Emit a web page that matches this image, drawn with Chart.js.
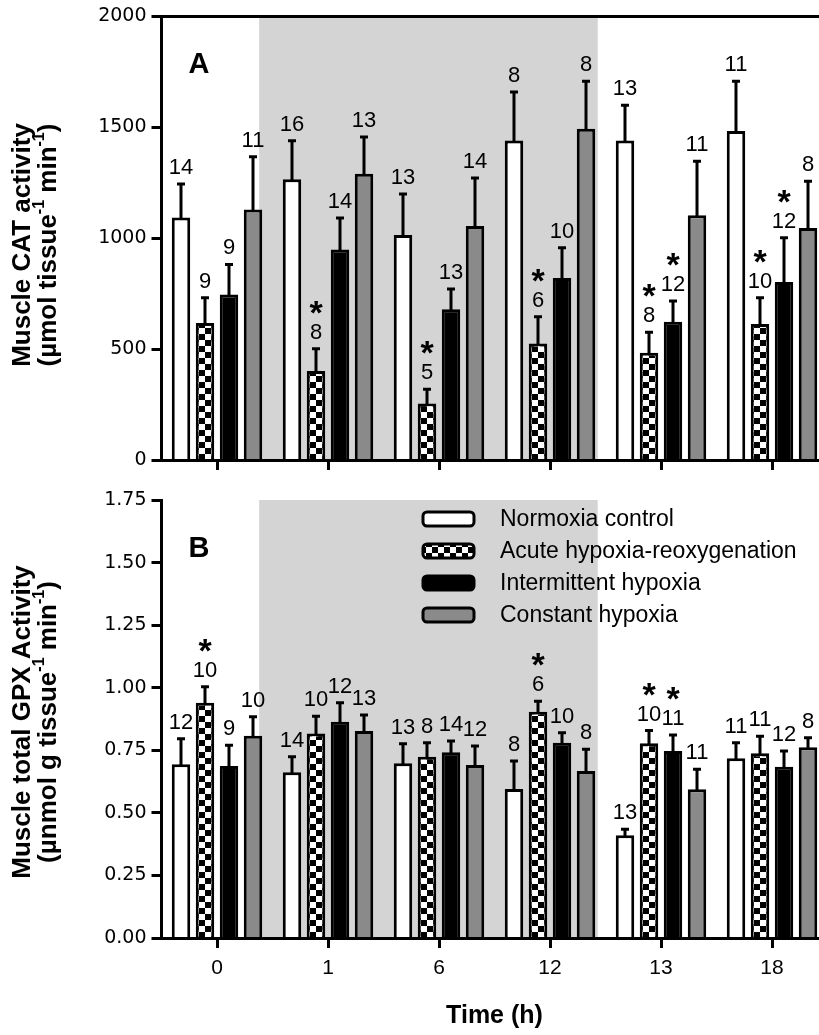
<!doctype html>
<html lang="en">
<head>
  <meta charset="utf-8" />
  <title>Muscle CAT and GPX activity</title>
  <style>
    body { margin: 0; background: #fff; overflow: hidden; }
    #wrap { position: relative; width: 819px; height: 1035px; overflow: hidden; }
    .panel { position: absolute; left: 0; }
  </style>
</head>
<body>
<div id="wrap">
  <div class="panel" style="top:0"><canvas id="cat" width="840" height="480"></canvas></div>
  <div class="panel" style="top:480px"><canvas id="gpx" width="840" height="555"></canvas></div>
</div>

<script src="https://cdn.jsdelivr.net/npm/chart.js"></script>
<script>
// time points (h) and treatment groups
const timeLabels = ['0', '1', '6', '12', '13', '18'];
const groupNames = ['Normoxia control', 'Acute hypoxia-reoxygenation', 'Intermittent hypoxia', 'Constant hypoxia'];

// shaded hypoxia period, in category units of the x axis
const shadeFrom = 0.38;
const shadeTo = 3.43;

// A: muscle CAT activity (rows follow groupNames)
const catMean = [
  [1093, 1266, 1014, 1441, 1441, 1483],
  [618, 401, 255, 525, 483, 613],
  [746, 949, 680, 821, 623, 803],
  [1129, 1291, 1055, 1494, 1104, 1046]
];
const catSem = [
  [156, 178, 190, 223, 163, 229],
  [118, 105, 68, 125, 98, 123],
  [140, 147, 95, 140, 98, 203],
  [243, 170, 221, 218, 247, 215]
];
const catN = [
  [14, 16, 13, 8, 13, 11],
  [9, 8, 5, 6, 8, 10],
  [9, 14, 13, 10, 12, 12],
  [11, 13, 14, 8, 11, 8]
];
const catStar = [
  [0, 0, 0, 0, 0, 0],
  [0, 1, 1, 1, 1, 1],
  [0, 0, 0, 0, 1, 1],
  [0, 0, 0, 0, 0, 0]
];
const catTicks = [0, 500, 1000, 1500, 2000];

// B: muscle total GPX activity
const gpxMean = [
  [0.694, 0.662, 0.698, 0.595, 0.411, 0.718],
  [0.940, 0.817, 0.724, 0.904, 0.778, 0.738],
  [0.687, 0.864, 0.742, 0.780, 0.747, 0.684],
  [0.808, 0.827, 0.691, 0.667, 0.594, 0.762]
];
const gpxSem = [
  [0.106, 0.066, 0.082, 0.116, 0.027, 0.066],
  [0.068, 0.073, 0.060, 0.046, 0.055, 0.072],
  [0.087, 0.080, 0.049, 0.044, 0.068, 0.067],
  [0.080, 0.068, 0.080, 0.091, 0.084, 0.042]
];
const gpxN = [
  [12, 14, 13, 8, 13, 11],
  [10, 10, 8, 6, 10, 11],
  [9, 12, 14, 10, 11, 12],
  [10, 13, 12, 8, 11, 8]
];
const gpxStar = [
  [0, 0, 0, 0, 0, 0],
  [1, 0, 0, 1, 1, 0],
  [0, 0, 0, 0, 1, 0],
  [0, 0, 0, 0, 0, 0]
];
const gpxTicks = [0, 0.25, 0.5, 0.75, 1.0, 1.25, 1.5, 1.75];

const FONT = "'Liberation Sans', Arial, sans-serif";
const TICKFONT = "'DejaVu Sans', Verdana, sans-serif";
Chart.defaults.font.family = FONT;
Chart.defaults.color = '#000';

// checkerboard fill for the acute group (6 px squares)
function checker(ctx) {
  const c = document.createElement('canvas');
  c.width = c.height = 12;
  const g = c.getContext('2d');
  g.fillStyle = '#fff';
  g.fillRect(0, 0, 12, 12);
  g.fillStyle = '#000';
  g.fillRect(6, 0, 6, 6);
  g.fillRect(0, 6, 6, 6);
  return ctx.createPattern(c, 'repeat');
}

// rotated axis title with superscripts
function drawRich(ctx, pieces, cx, cy, size) {
  const base = 'bold ' + size + 'px ' + FONT;
  const sup = 'bold ' + Math.round(size * 0.62) + 'px ' + FONT;
  let w = 0;
  pieces.forEach(p => { ctx.font = p.sup ? sup : base; w += ctx.measureText(p.t).width; });
  ctx.save();
  ctx.translate(cx, cy);
  ctx.rotate(-Math.PI / 2);
  ctx.textAlign = 'left';
  ctx.textBaseline = 'middle';
  ctx.fillStyle = '#000';
  let x = -w / 2;
  pieces.forEach(p => {
    ctx.font = p.sup ? sup : base;
    ctx.fillText(p.t, x, p.sup ? -size * 0.36 : 0);
    x += ctx.measureText(p.t).width;
  });
  ctx.restore();
}

const extras = {
  id: 'extras',
  beforeDraw(chart) {
    const { ctx, chartArea: a, scales: { x } } = chart;
    const x0 = x.getPixelForValue(shadeFrom);
    const x1 = x.getPixelForValue(shadeTo);
    ctx.save();
    ctx.fillStyle = '#d4d4d4';
    ctx.fillRect(x0, a.top, x1 - x0, a.bottom - a.top);
    ctx.restore();
  },
  afterDatasetsDraw(chart) {
    const o = chart.options.plugins.extras;
    const { ctx, scales: { y } } = chart;
    ctx.save();
    // line the checker squares up with each acute bar
    const pat = chart.data.datasets[1].backgroundColor;
    chart.getDatasetMeta(1).data.forEach(bar => {
      const left = bar.x - bar.width / 2 + 3;
      const top = bar.y + 3;
      pat.setTransform(new DOMMatrix([1, 0, 0, 1, Math.round(left), Math.round(bar.base)]));
      ctx.fillStyle = pat;
      ctx.fillRect(left, top, bar.width - 6, bar.base - top);
    });
    ctx.strokeStyle = '#000';
    ctx.fillStyle = '#000';
    ctx.lineWidth = 3;
    ctx.textAlign = 'center';
    ctx.textBaseline = 'alphabetic';
    chart.data.datasets.forEach((ds, i) => {
      chart.getDatasetMeta(i).data.forEach((bar, j) => {
        const top = y.getPixelForValue(ds.data[j] + o.sem[i][j]);
        ctx.beginPath();
        ctx.moveTo(bar.x, bar.y + 1);
        ctx.lineTo(bar.x, top);
        ctx.moveTo(bar.x - 4, top + 1);
        ctx.lineTo(bar.x + 4, top + 1);
        ctx.stroke();
        ctx.font = '22px ' + FONT;
        ctx.fillText(String(o.n[i][j]), bar.x, top - 9);
        if (o.star[i][j]) {
          ctx.font = 'bold 34px ' + FONT;
          ctx.fillText('*', bar.x, top - 24);
        }
      });
    });
    ctx.restore();
  },
  afterDraw(chart) {
    const o = chart.options.plugins.extras;
    const { ctx, chartArea: a } = chart;
    ctx.save();
    if (o.topBorder) {
      ctx.beginPath();
      ctx.moveTo(a.left, a.top);
      ctx.lineTo(a.right, a.top);
      ctx.lineWidth = 3;
      ctx.strokeStyle = '#000';
      ctx.stroke();
    }
    ctx.fillStyle = '#000';
    ctx.font = 'bold 29px ' + FONT;
    ctx.textAlign = 'center';
    ctx.textBaseline = 'middle';
    ctx.fillText(o.letter, 199, a.top + 49);
    drawRich(ctx, o.title[0], 23, o.titleY, 26);
    drawRich(ctx, o.title[1], 49, o.titleY, 26);
    if (o.legend) {
      chart.data.datasets.forEach((ds, i) => {
        const cy = a.top + 19 + i * 32;
        if (ds.backgroundColor instanceof CanvasPattern) {
          ds.backgroundColor.setTransform(new DOMMatrix([1, 0, 0, 1, 426, cy - 4]));
        }
        ctx.beginPath();
        ctx.roundRect(423, cy - 7, 51, 14, 4);
        ctx.fillStyle = ds.backgroundColor;
        ctx.fill();
        ctx.lineWidth = 3;
        ctx.strokeStyle = '#000';
        ctx.stroke();
        ctx.fillStyle = '#000';
        ctx.font = '23px ' + FONT;
        ctx.textAlign = 'left';
        ctx.textBaseline = 'middle';
        ctx.fillText(ds.label, 500, cy + 1);
      });
    }
    ctx.restore();
  }
};

function makeChart(id, means, o, yMax, ticks, fmt, xHeight, padTop, showX) {
  const ctx = document.getElementById(id).getContext('2d');
  const fills = ['#ffffff', checker(ctx), '#000000', '#8a8a8a'];
  return new Chart(ctx, {
    type: 'bar',
    data: {
      labels: timeLabels,
      datasets: groupNames.map((name, i) => ({
        label: name,
        data: means[i],
        backgroundColor: fills[i],
        borderColor: '#000',
        borderWidth: 3,
        borderSkipped: 'start',
        barPercentage: 0.77,
        categoryPercentage: 0.865
      }))
    },
    options: {
      responsive: false,
      animation: false,
      layout: { padding: { top: padTop, right: 12.5, bottom: 0, left: 0 } },
      plugins: { legend: { display: false }, tooltip: { enabled: false }, extras: o },
      scales: {
        x: {
          grid: { display: true, drawOnChartArea: false, drawTicks: true, offset: false,
                  tickLength: 10, tickWidth: 3, tickColor: '#000' },
          border: { display: true, width: 3, color: '#000', z: 1 },
          ticks: { display: showX, padding: 8, font: { size: 21 } },
          title: { display: showX, text: 'Time (h)', font: { size: 25, weight: 'bold' },
                   padding: { top: 0, bottom: 4 } },
          afterFit: s => { s.height = xHeight; }
        },
        y: {
          min: 0,
          max: yMax,
          grid: { display: true, drawOnChartArea: false, drawTicks: true,
                  tickLength: 10, tickWidth: 3, tickColor: '#000' },
          border: { display: true, width: 3, color: '#000', z: 1 },
          ticks: { padding: 5, font: { size: 19, family: TICKFONT }, callback: v => fmt(v) },
          afterBuildTicks: s => { s.ticks = ticks.map(v => ({ value: v })); },
          afterFit: s => { s.width = 161.5; }
        }
      }
    },
    plugins: [extras]
  });
}

makeChart('cat', catMean, {
  sem: catSem, n: catN, star: catStar, letter: 'A', topBorder: true, legend: false, titleY: 245,
  title: [
    [{ t: 'Muscle CAT activity' }],
    [{ t: '(\u00b5mol tissue' }, { t: '-1', sup: true }, { t: ' min' }, { t: '-1', sup: true }, { t: ')' }]
  ]
}, 2000, catTicks, v => String(v), 20, 16, false);

makeChart('gpx', gpxMean, {
  sem: gpxSem, n: gpxN, star: gpxStar, letter: 'B', topBorder: false, legend: true, titleY: 242,
  title: [
    [{ t: 'Muscle total GPX Activity' }],
    [{ t: '(\u00b5nmol g tissue' }, { t: '-1', sup: true }, { t: ' min' }, { t: '-1', sup: true }, { t: ')' }]
  ]
}, 1.75, gpxTicks, v => v.toFixed(2), 97, 20, true);
</script>
</body>
</html>
